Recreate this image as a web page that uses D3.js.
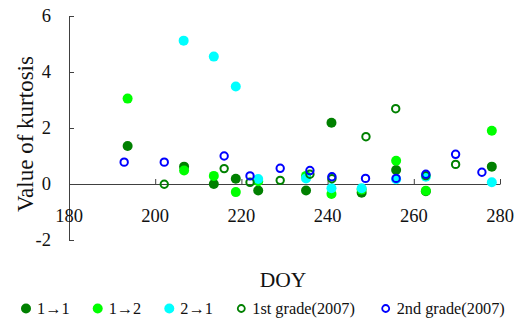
<!DOCTYPE html>
<html>
<head>
<meta charset="utf-8">
<script src="https://cdn.jsdelivr.net/npm/d3@7"></script>
<style>
  html, body { margin: 0; padding: 0; background: #fff; }
  svg { display: block; }
  svg text { font-family: "Liberation Serif", "Times New Roman", serif; }
</style>
</head>
<body>
<svg id="chart" width="524" height="323"></svg>
<script>
// Kurtosis by day of year for each transition class and the 2007 grades
const series = ["1→1", "1→2", "2→1", "1st grade(2007)", "2nd grade(2007)"];
const seriesColors = ["#008000", "#00ff00", "#00ffff", "#008000", "#0000ff"];
const seriesFilled = [true, true, true, false, false];

const doy11 = [193.6, 206.7, 213.6, 218.7, 223.9, 235.0, 240.9, 247.9, 255.9, 262.8, 278.1];
const val11 = [1.36, 0.62, 0.00, 0.19, -0.23, -0.23, 2.19, -0.31, 0.50, -0.26, 0.62];

const doy12 = [193.6, 206.7, 213.6, 218.7, 223.9, 235.0, 240.9, 247.9, 255.9, 262.8, 278.1];
const val12 = [3.05, 0.48, 0.29, -0.29, 0.10, 0.29, -0.36, -0.20, 0.83, -0.24, 1.90];

const doy21 = [206.6, 213.6, 218.7, 223.9, 235.0, 240.9, 247.9, 255.9, 262.8, 278.1];
const val21 = [5.12, 4.55, 3.48, 0.18, 0.20, -0.15, -0.15, 0.17, 0.26, 0.06];

const doyG1 = [202.1, 216.0, 222.0, 229.0, 235.9, 241.0, 248.9, 255.8, 262.8, 269.7];
const valG1 = [-0.01, 0.55, 0.06, 0.13, 0.35, 0.19, 1.69, 2.69, 0.30, 0.70];

const doyG2 = [192.8, 202.1, 216.0, 222.0, 229.0, 235.9, 241.0, 248.8, 255.9, 262.8, 269.7, 275.8];
const valG2 = [0.78, 0.78, 1.00, 0.29, 0.56, 0.48, 0.26, 0.20, 0.20, 0.35, 1.06, 0.42];

const xTicks = [180, 200, 220, 240, 260, 280];
const yTicks = [-2, 0, 2, 4, 6];

const seriesDoy = [doy11, doy12, doy21, doyG1, doyG2];
const seriesVal = [val11, val12, val21, valG1, valG2];

const svg = d3.select("#chart");
const x = d3.scaleLinear().domain([180, 280]).range([69, 500]);
const y = d3.scaleLinear().domain([-2, 6]).range([240, 16]);
const axisColor = "#404040";
const serifStack = '"Liberation Serif", "Times New Roman", serif';

// x axis sits on the zero line, ticks pointing up
const xAxis = svg.append("g")
  .attr("transform", `translate(0,${y(0)})`)
  .call(d3.axisBottom(x).tickValues(xTicks).tickSize(-5).tickFormat("").tickSizeOuter(0));
xAxis.select(".domain").attr("stroke", axisColor);
xAxis.selectAll(".tick line").attr("stroke", axisColor);

// y axis with inward ticks
const yAxis = svg.append("g")
  .attr("transform", `translate(${x(180)},0)`)
  .call(d3.axisLeft(y).tickValues(yTicks).tickSize(-5).tickFormat("").tickSizeOuter(0));
yAxis.select(".domain").attr("stroke", axisColor);
yAxis.selectAll(".tick line").attr("stroke", axisColor);

// tick labels
svg.append("g").selectAll("text").data(xTicks).join("text")
  .attr("x", d => x(d))
  .attr("y", y(0) + 37.5)
  .attr("text-anchor", "middle")
  .attr("fill", "#111")
  .style("font-family", serifStack)
  .style("font-size", "18.5px")
  .text(d => d);

svg.append("g").selectAll("text").data(yTicks).join("text")
  .attr("x", x(180) - 18)
  .attr("y", d => y(d) + 6.3)
  .attr("text-anchor", "end")
  .attr("fill", "#111")
  .style("font-family", serifStack)
  .style("font-size", "18.5px")
  .text(d => d);

// points, drawn in series order
series.forEach((name, i) => {
  const pts = seriesDoy[i].map((d, j) => ({ doy: d, v: seriesVal[i][j] }));
  const g = svg.append("g");
  g.selectAll("circle").data(pts).join("circle")
    .attr("cx", d => x(d.doy))
    .attr("cy", d => y(d.v))
    .attr("r", seriesFilled[i] ? 5 : 3.7)
    .attr("fill", seriesFilled[i] ? seriesColors[i] : "none")
    .attr("stroke", seriesFilled[i] ? "none" : seriesColors[i])
    .attr("stroke-width", 2);
});

// axis titles
svg.append("text")
  .attr("x", 283).attr("y", 286.5)
  .attr("text-anchor", "middle")
  .attr("fill", "#111")
  .style("font-size", "21.5px")
  .text("DOY");

svg.append("text")
  .attr("transform", "translate(33,134) rotate(-90)")
  .attr("text-anchor", "middle")
  .attr("fill", "#111")
  .style("font-size", "23px")
  .text("Value of kurtosis");

// legend
const legendX = [26, 97.7, 169.3, 241.3, 385.7];
const legend = svg.append("g");
series.forEach((name, i) => {
  const g = legend.append("g").attr("transform", `translate(${legendX[i]},308.5)`);
  g.append("circle")
    .attr("r", seriesFilled[i] ? 5 : 3.5)
    .attr("fill", seriesFilled[i] ? seriesColors[i] : "none")
    .attr("stroke", seriesFilled[i] ? "none" : seriesColors[i])
    .attr("stroke-width", 1.8);
  g.append("text")
    .attr("x", 11).attr("y", 5.5)
    .attr("fill", "#111")
    .style("font-size", "16.3px")
    .text(name);
});
</script>
</body>
</html>
